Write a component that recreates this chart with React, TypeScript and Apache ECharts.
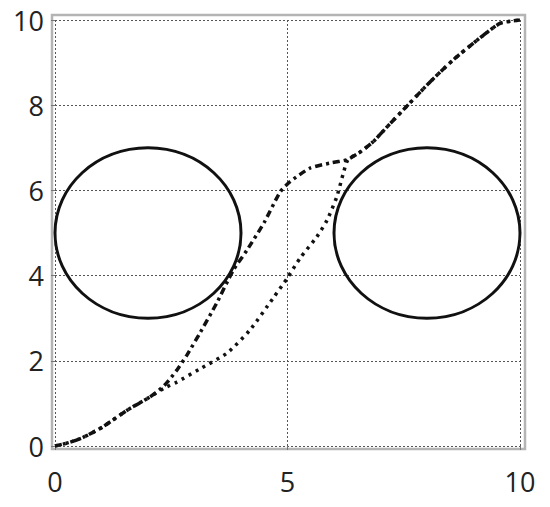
import React, { useEffect, useRef } from "react";
import * as echarts from "echarts";

const xTicks = [0, 5, 10];
const yTicks = [0, 2, 4, 6, 8, 10];

// circles: [centerX, centerY, radius]
const circles: number[][] = [
  [2, 5, 2],
  [8, 5, 2],
];

// dash-dot curve
const curveA: number[][] = [
  [0, 0], [0.3, 0.08], [0.6, 0.2], [1.03, 0.45], [1.55, 0.84], [2.04, 1.15],
  [2.35, 1.42], [2.62, 1.78], [2.84, 2.14], [3.1, 2.62], [3.48, 3.36],
  [3.83, 4.12], [4.13, 4.6], [4.5, 5.25], [4.84, 5.96], [5.05, 6.2],
  [5.48, 6.52], [5.91, 6.64], [6.28, 6.72], [6.56, 6.9], [6.84, 7.14],
  [7.14, 7.49], [7.63, 8.05], [8.06, 8.54], [8.56, 9.06], [9.14, 9.58],
  [9.57, 9.92], [10, 10],
];

// dotted curve
const curveB: number[][] = [
  [0, 0], [0.3, 0.08], [0.6, 0.2], [1.03, 0.45], [1.55, 0.84], [2.04, 1.15],
  [2.35, 1.36], [2.62, 1.5], [3.1, 1.8], [3.7, 2.18], [4.19, 2.72],
  [4.69, 3.47], [5.0, 3.95], [5.27, 4.41], [5.63, 4.91], [5.85, 5.3],
  [6.06, 5.85], [6.2, 6.4], [6.3, 6.72], [6.56, 6.9], [6.84, 7.14],
  [7.14, 7.49], [7.63, 8.05], [8.06, 8.54], [8.56, 9.06], [9.14, 9.58],
  [9.57, 9.92], [10, 10],
];

const FONT = "'Open Sans', 'Noto Sans', sans-serif";

export default function App() {
  const ref = useRef<HTMLDivElement>(null);
  useEffect(() => {
    if (!ref.current) return;
    const chart = echarts.init(ref.current, undefined, { renderer: "svg" });
    const gridLine = { show: true, lineStyle: { color: "#555", width: 1, type: [2, 2] as any } };
    chart.setOption({
      animation: false,
      backgroundColor: "#fff",
      grid: { left: 55, right: 30, top: 20, bottom: 61, containLabel: false },
      graphic: [
        {
          type: "rect",
          shape: { x: 52, y: 15, width: 473, height: 434 },
          style: { fill: "none", stroke: "#b4b4b4", lineWidth: 2.5 },
          z: 0,
        },
      ],
      xAxis: {
        type: "value",
        min: xTicks[0],
        max: xTicks[xTicks.length - 1],
        interval: 5,
        offset: 3,
        axisLine: { show: false },
        axisTick: { show: true, length: 4, lineStyle: { color: "#777", width: 1 } },
        axisLabel: { fontSize: 27, color: "#222", margin: 19, fontFamily: FONT },
        splitLine: gridLine,
      },
      yAxis: {
        type: "value",
        min: yTicks[0],
        max: yTicks[yTicks.length - 1],
        interval: 2,
        offset: 3,
        axisLine: { show: false },
        axisTick: { show: true, length: 4, lineStyle: { color: "#777", width: 1 } },
        axisLabel: { fontSize: 27, color: "#222", margin: 8, fontFamily: FONT },
        splitLine: gridLine,
      },
      series: [
        {
          type: "custom",
          data: circles,
          renderItem: (params: any, api: any) => {
            const c = api.coord([api.value(0), api.value(1)]);
            const s = api.size([api.value(2), api.value(2)]);
            return {
              type: "ellipse",
              shape: { cx: c[0], cy: c[1], rx: s[0], ry: s[1] },
              style: { fill: "none", stroke: "#111", lineWidth: 3 },
            };
          },
          z: 3,
        },
        {
          type: "line",
          data: curveB,
          symbol: "none",
          smooth: 0.2,
          lineStyle: { color: "#111", width: 3.5, type: [3, 5] },
          z: 4,
        },
        {
          type: "line",
          data: curveA,
          symbol: "none",
          smooth: 0.2,
          lineStyle: { color: "#111", width: 3.5, type: [7, 4, 3, 4] },
          z: 5,
        },
      ],
    });
    return () => chart.dispose();
  }, []);
  return <div ref={ref} style={{ width: 550, height: 507, position: "absolute", left: 0, top: 0 }} />;
}
